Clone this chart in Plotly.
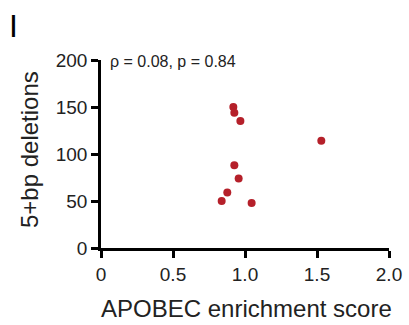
import plotly.graph_objects as go

apobec_score = [0.919, 0.926, 0.968, 1.53, 0.926, 0.956, 0.877, 0.838, 1.046]
deletions_5bp = [150, 144, 135, 114, 88, 74, 59, 50, 48]
x_ticks = [0, 0.5, 1.0, 1.5, 2.0]
x_tick_labels = ["0", "0.5", "1.0", "1.5", "2.0"]
y_ticks = [0, 50, 100, 150, 200]
y_tick_labels = ["0", "50", "100", "150", "200"]
stats_text = "ρ = 0.08, p = 0.84"
x_title = "APOBEC enrichment score"
y_title = "5+bp deletions"

font = "Liberation Sans, Arial, sans-serif"
W, H = 409, 325
L, R, T, B = 101, 20, 60, 77
pw, ph = W - L - R, H - T - B

def px(x):
    return (x - L) / pw

def py(y):
    return (H - B - y) / ph

fig = go.Figure(go.Scatter(
    x=apobec_score, y=deletions_5bp, mode="markers",
    marker=dict(size=8, color="#B5202A", line=dict(width=0)),
    showlegend=False,
))

axis_common = dict(
    showline=True, linecolor="black", linewidth=2.5,
    ticks="outside", ticklen=7, tickwidth=2.5, tickcolor="black",
    showgrid=False, zeroline=False, automargin=False,
    tickfont=dict(size=19, family=font, color="#222"),
)

fig.update_layout(
    width=W, height=H,
    margin=dict(l=L, r=R, t=T, b=B),
    paper_bgcolor="white", plot_bgcolor="white",
    font=dict(family=font, color="#222", size=16),
    xaxis=dict(range=[0, 2.0], tickvals=x_ticks, ticktext=x_tick_labels, **axis_common),
    yaxis=dict(range=[0, 200], tickvals=y_ticks, ticktext=y_tick_labels, **axis_common),
    annotations=[
        dict(text=stats_text, x=px(108), y=py(62),
             xref="paper", yref="paper",
             xanchor="left", yanchor="middle", showarrow=False,
             font=dict(size=16, family=font, color="#222")),
        dict(text="I", x=px(7), y=py(6),
             xref="paper", yref="paper",
             xanchor="left", yanchor="top", showarrow=False,
             font=dict(size=32, family=font, color="black")),
        dict(text=x_title, x=px(246), y=py(308),
             xref="paper", yref="paper",
             xanchor="center", yanchor="middle", showarrow=False,
             font=dict(size=24, family=font, color="#222")),
        dict(text=y_title, x=px(29), y=py(150), textangle=-90,
             xref="paper", yref="paper",
             xanchor="center", yanchor="middle", showarrow=False,
             font=dict(size=24, family=font, color="#222")),
    ],
)

fig.write_html("out.html")
